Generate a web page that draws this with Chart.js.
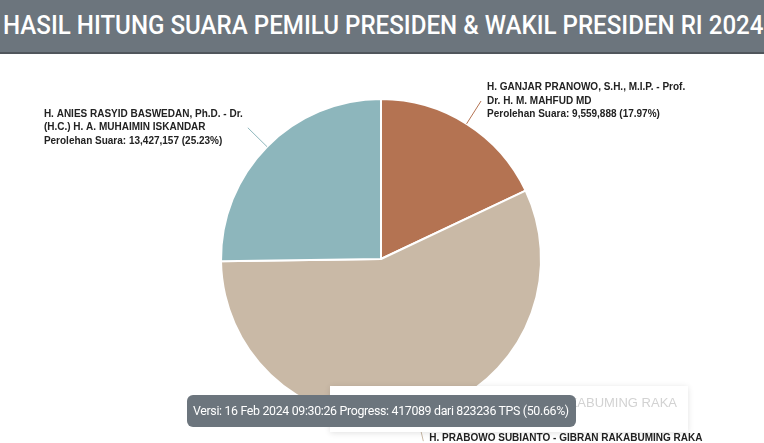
<!DOCTYPE html>
<html lang="id">
<head>
    <meta charset="UTF-8">
    <title>Hasil Hitung Suara Pemilu Presiden & Wakil Presiden RI 2024</title>
    <style>
        * {
            margin: 0;
            padding: 0;
            box-sizing: border-box;
        }

        body {
            width: 764px;
            height: 443px;
            overflow: hidden;
            background: #fff;
            font-family: Arial, "Liberation Sans", sans-serif;
            position: relative;
        }

        /* Header bar */
        .header {
            height: 54px;
            background: #6c757d;
            border-bottom: 2px solid #50565c;
            color: #fff;
            font-family: Roboto, sans-serif;
            font-weight: 500;
            font-size: 26px;
            line-height: 50px;
            padding-left: 3px;
            white-space: nowrap;
            overflow: hidden;
        }

        .header span {
            display: inline-block;
            transform: scaleX(0.928);
            transform-origin: left center;
        }

        #chart-container {
            position: absolute;
            left: 0;
            top: 54px;
            width: 764px;
            height: 389px;
        }

        /* faded label popup behind the version badge */
        .popup {
            position: absolute;
            left: 330px;
            top: 386px;
            width: 358px;
            height: 46px;
            background: #fff;
            box-shadow: 0 1px 6px rgba(0, 0, 0, 0.12);
            color: #d2d2d2;
            font-size: 13px;
            line-height: 15px;
            text-align: right;
            padding: 9px 11px 0 0;
            white-space: nowrap;
        }

        .badge {
            position: absolute;
            left: 187px;
            top: 395px;
            width: 389px;
            height: 32px;
            background: #6c757d;
            border-radius: 6px;
            color: #fff;
            font-family: Roboto, sans-serif;
            font-size: 13px;
            letter-spacing: -0.35px;
            line-height: 32px;
            padding-left: 6px;
            white-space: nowrap;
            overflow: hidden;
        }

        .badge span {
            display: inline-block;
            transform: scaleX(0.952);
            transform-origin: left center;
        }
    </style>
</head>
<body>
    <div class="header"><span>HASIL HITUNG SUARA PEMILU PRESIDEN &amp; WAKIL PRESIDEN RI 2024</span></div>

    <div id="chart-container">
        <canvas id="pieChart"></canvas>
    </div>

    <div class="popup">H. PRABOWO SUBIANTO - GIBRAN RAKABUMING RAKA</div>
    <div class="badge"><span>Versi: 16 Feb 2024 09:30:26 Progress: 417089 dari 823236 TPS (50.66%)</span></div>

    <script src="https://cdn.jsdelivr.net/npm/chart.js"></script>
    <script>
        // paslon, clockwise from the top
        const candidates = [
            ['H. GANJAR PRANOWO, S.H., M.I.P. - Prof.', 'Dr. H. M. MAHFUD MD'],
            ['H. PRABOWO SUBIANTO - GIBRAN RAKABUMING RAKA'],
            ['H. ANIES RASYID BASWEDAN, Ph.D. - Dr.', '(H.C.) H. A. MUHAIMIN ISKANDAR']
        ];
        const votes = [9559888, 30222000, 13427157];
        const percents = ['17.97%', '56.80%', '25.23%'];
        const colors = ['#b47352', '#c9b9a6', '#8db6bc'];

        // outside labels with a connector line, drawn from the arc geometry
        const outsideLabels = {
            id: 'outsideLabels',
            afterDatasetsDraw(chart) {
                const ctx = chart.ctx;
                const arcs = chart.getDatasetMeta(0).data;
                ctx.save();
                ctx.font = 'bold 10px Arial, "Liberation Sans", sans-serif';
                ctx.textBaseline = 'middle';
                arcs.forEach((arc, i) => {
                    const { x, y, startAngle, endAngle, outerRadius } = arc.getProps(['x', 'y', 'startAngle', 'endAngle', 'outerRadius'], true);
                    const mid = (startAngle + endAngle) / 2;
                    const cos = Math.cos(mid), sin = Math.sin(mid);
                    const x0 = x + cos * outerRadius, y0 = y + sin * outerRadius;
                    const x1 = x + cos * (outerRadius + 27), y1 = y + sin * (outerRadius + 27);

                    ctx.strokeStyle = colors[i];
                    ctx.lineWidth = 1;
                    ctx.beginPath();
                    ctx.moveTo(x0, y0);
                    ctx.lineTo(x1, y1);
                    ctx.stroke();

                    const lines = candidates[i].concat(['Perolehan Suara: ' + votes[i].toLocaleString('en-US') + ' (' + percents[i] + ')']);
                    const right = cos < 0;
                    ctx.textAlign = 'left';
                    let w = 0;
                    lines.forEach(t => { w = Math.max(w, ctx.measureText(t).width); });
                    const tx = right ? x1 - 5 - w : x1 + 6;
                    const top = y1 - (lines.length - 1) * 13.5 / 2 + (sin > 0.5 ? 3.5 : 0);
                    ctx.fillStyle = '#222';
                    lines.forEach((t, k) => ctx.fillText(t, tx, top + k * 13.5));
                });
                ctx.restore();
            }
        };

        new Chart(document.getElementById('pieChart'), {
            type: 'pie',
            data: {
                labels: candidates.map(c => c.join(' ')),
                datasets: [{
                    data: votes,
                    backgroundColor: colors,
                    borderColor: '#fff',
                    borderWidth: 2
                }]
            },
            options: {
                responsive: true,
                maintainAspectRatio: false,
                animation: false,
                layout: { padding: { top: 44, bottom: 23, left: 220, right: 222 } },
                plugins: {
                    legend: { display: false },
                    tooltip: { enabled: false }
                }
            },
            plugins: [outsideLabels]
        });
    </script>
</body>
</html>
